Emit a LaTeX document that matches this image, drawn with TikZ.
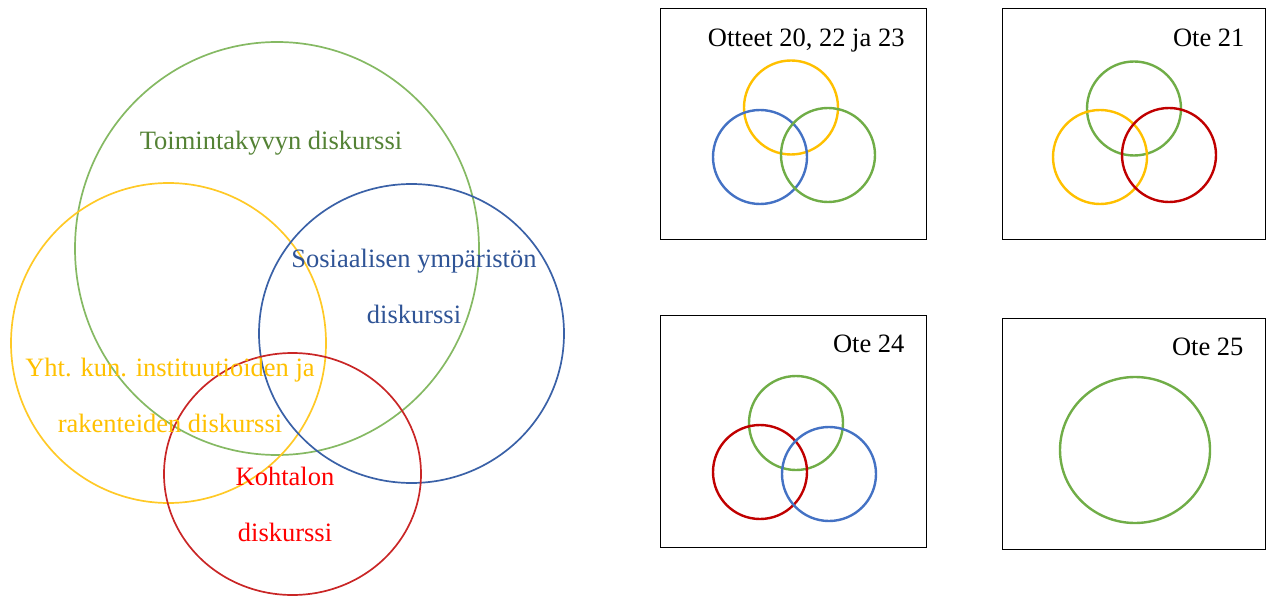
\documentclass[tikz,border=0pt]{standalone}
\usepackage{fontspec}
\setmainfont{Liberation Serif}
\definecolor{vgreen}{RGB}{112,173,71}
\definecolor{vblue}{RGB}{68,114,196}
\definecolor{vyellow}{RGB}{255,192,0}
\definecolor{vred}{RGB}{192,0,0}
\definecolor{tgreen}{RGB}{84,130,53}
\definecolor{tblue}{RGB}{47,84,150}
\definecolor{tred}{RGB}{255,0,0}

\begin{document}
\begin{tikzpicture}[x=1pt,y=-1pt,
    big/.style={line width=1.7pt},
    small/.style={line width=2.4pt},
    otebox/.style={draw=black,line width=1pt},
    lbl/.style={align=center,anchor=base,font=\fontsize{26.5}{56}\selectfont},
    otelbl/.style={anchor=base east,font=\fontsize{26.5}{30}\selectfont}]
  \useasboundingbox (0,0) rectangle (1266,596);
  % suuri kaavio
  \draw[big, vgreen!85]  (277,248.5) ellipse (202 and 206.5);
  \draw[big, vyellow!85] (168.5,343) ellipse (157.5 and 160);
  \draw[big, vblue!85!black] (411.5,333.5) ellipse (152.5 and 149.5);
  \draw[big, vred!85] (292.5,474) ellipse (128.5 and 121);
  \node[lbl, tgreen] (toim) at (271,150) {Toimintakyvyn diskurssi};
  \node[lbl, tblue] (sos) at (414,323) {Sosiaalisen ympäristön\\diskurssi};
  \node[lbl, vyellow] (yht) at (170,432) {Yht. kun. instituutioiden ja\\rakenteiden diskurssi};
  \node[lbl, tred] (koht) at (285,541) {Kohtalon\\diskurssi};

  % otteet 20, 22 ja 23
  \draw[otebox] (660,9) rectangle (926,239);
  \node[otelbl] (o20) at (908,47) {Otteet 20, 22 ja 23};
  \draw[small, vyellow] (791,107.5) circle (47);
  \draw[small, vblue]   (760,157) circle (47);
  \draw[small, vgreen]  (828,155) circle (47);
  % ote 21
  \draw[otebox] (1002,9) rectangle (1265,239);
  \node[otelbl] (o21) at (1248,47) {Ote 21};
  \draw[small, vgreen]  (1134,108.5) circle (47);
  \draw[small, vyellow] (1100,157) circle (47);
  \draw[small, vred]    (1169,155) circle (47);
  % ote 24
  \draw[otebox] (660,315) rectangle (926,547);
  \node[otelbl] (o24) at (908,352) {Ote 24};
  \draw[small, vgreen] (796,423) circle (47);
  \draw[small, vred]   (760,472) circle (47);
  \draw[small, vblue]  (829,474) circle (47);
  % ote 25
  \draw[otebox] (1002,318) rectangle (1265,549);
  \node[otelbl] (o25) at (1247,355) {Ote 25};
  \draw[small, vgreen] (1135,450) ellipse (75 and 73);
\end{tikzpicture}
\end{document}
